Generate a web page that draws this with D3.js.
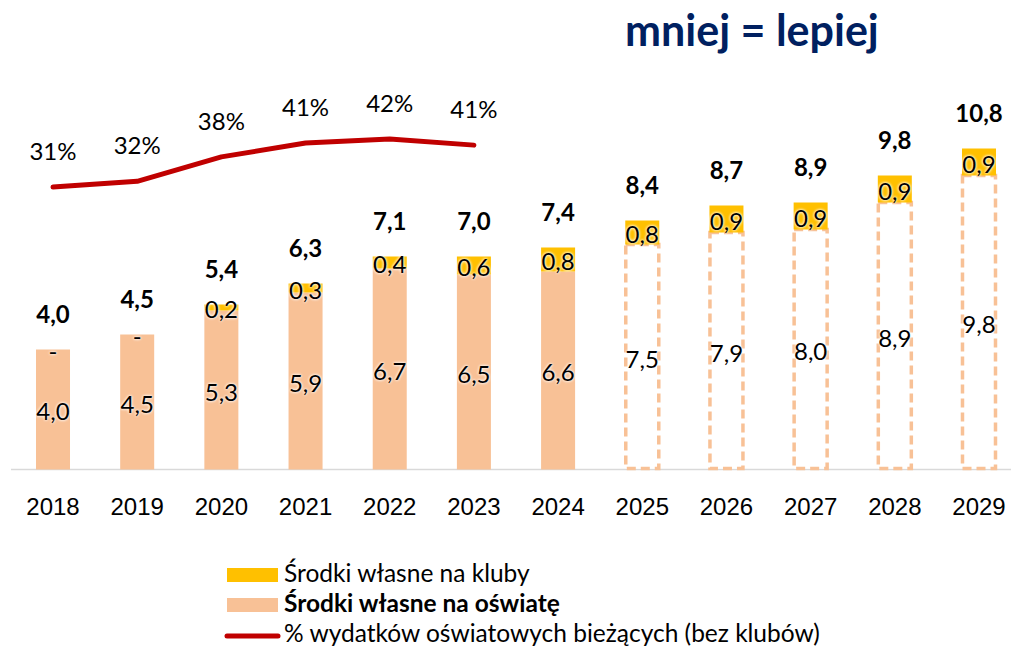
<!DOCTYPE html>
<html>
<head>
<meta charset="utf-8">
<script src="https://cdn.jsdelivr.net/npm/d3@7"></script>
<style>
  body { margin: 0; background: #fff; }
  svg { display: block; font-family: Lato, "Open Sans", sans-serif; }
</style>
</head>
<body>
<svg width="1011" height="648"></svg>
<script>
// dane
var years = ["2018", "2019", "2020", "2021", "2022", "2023", "2024", "2025", "2026", "2027", "2028", "2029"];
var oswiata = [4.0, 4.5, 5.3, 5.9, 6.7, 6.5, 6.6, 7.5, 7.9, 8.0, 8.9, 9.8];   // Środki własne na oświatę
var kluby = [0, 0, 0.2, 0.3, 0.4, 0.6, 0.8, 0.8, 0.9, 0.9, 0.9, 0.9];         // Środki własne na kluby
var razem = [4.0, 4.5, 5.4, 6.3, 7.1, 7.0, 7.4, 8.4, 8.7, 8.9, 9.8, 10.8];    // etykiety sum
var prognoza = [false, false, false, false, false, false, false, true, true, true, true, true];
var udzialYears = ["2018", "2019", "2020", "2021", "2022", "2023"];
var udzial = [31.0, 32.3, 37.9, 41.1, 42.0, 40.6];                            // % wydatków bieżących

var legendLabels = ["Środki własne na kluby", "Środki własne na oświatę", "% wydatków oświatowych bieżących (bez klubów)"];

var orange = "#F8C196", yellow = "#FFC000", red = "#C00000";

var svg = d3.select("svg");

var x = d3.scaleBand().domain(years).range([11, 1021]).paddingInner(0.596).paddingOuter(0.297);
var y = d3.scaleLinear().domain([0, 10]).range([469.5, 169.5]);
var y2 = d3.scaleLinear().domain([0, 50]).range([322.3, 104.1]);

function fmt(v) {
    return v === 0 ? "-" : d3.format(".1f")(v).replace(".", ",");
}

var rows = years.map(function (yr, i) {
    return { year: yr, a: oswiata[i], b: kluby[i], sum: razem[i], f: prognoza[i] };
});

// axis
var xAxis = svg.append("g")
    .attr("transform", "translate(0," + y(0) + ")")
    .call(d3.axisBottom(x).tickSize(0).tickPadding(0));
xAxis.select(".domain").remove();
xAxis.selectAll("text")
    .attr("y", 45.5)
    .attr("dy", null)
    .style("font-size", "24px")
    .style("fill", "#000");
svg.append("line")
    .attr("x1", 11).attr("x2", 1011)
    .attr("y1", y(0)).attr("y2", y(0))
    .attr("stroke", "#D9D9D9").attr("stroke-width", 1.5);

// dolne słupki (oświata)
svg.selectAll("rect.osw").data(rows).enter().append("rect")
    .attr("class", "osw")
    .attr("x", function (d) { return x(d.year) + (d.f ? 0.5 : 0); })
    .attr("width", function (d) { return x.bandwidth() - (d.f ? 1 : 0); })
    .attr("y", function (d) { return y(d.a); })
    .attr("height", function (d) { return y(0) - y(d.a) - (d.f ? 1 : 0); })
    .attr("fill", function (d) { return d.f ? "#fff" : orange; })
    .attr("stroke", function (d) { return d.f ? orange : "none"; })
    .attr("stroke-width", 3.5)
    .attr("stroke-dasharray", "9,5");

// górne słupki (kluby)
svg.selectAll("rect.klub").data(rows).enter().append("rect")
    .attr("class", "klub")
    .attr("x", function (d) { return x(d.year); })
    .attr("width", x.bandwidth())
    .attr("y", function (d) { return y(d.a + d.b); })
    .attr("height", function (d) { return y(d.a) - y(d.a + d.b); })
    .attr("fill", yellow);

var cx = function (d) { return x(d.year) + x.bandwidth() / 2; };

// etykiety w słupkach
function inner(sel) {
    sel.attr("text-anchor", "middle")
        .style("font-size", "24px")
        .style("fill", "#000")
        .style("text-shadow", "0 0 3px #fff, 0 0 3px #fff");
}
svg.selectAll("text.lbA").data(rows).enter().append("text")
    .attr("class", "lbA")
    .attr("x", cx)
    .attr("y", function (d) { return (y(0) + y(d.a)) / 2 + 10.5; })
    .text(function (d) { return fmt(d.a); })
    .call(inner);
svg.selectAll("text.lbB").data(rows).enter().append("text")
    .attr("class", "lbB")
    .attr("x", cx)
    .attr("y", function (d) { return (y(d.a) + y(d.a + d.b)) / 2 + 10.5; })
    .text(function (d) { return fmt(d.b); })
    .call(inner);

// sumy
svg.selectAll("text.sum").data(rows).enter().append("text")
    .attr("class", "sum")
    .attr("x", cx)
    .attr("y", function (d) { return y(d.a + d.b) - 27; })
    .attr("text-anchor", "middle")
    .style("font-size", "24px")
    .style("font-weight", "bold")
    .text(function (d) { return fmt(d.sum); });

// linia udziału
var pts = udzialYears.map(function (yr, i) { return { year: yr, v: udzial[i] }; });
svg.append("path")
    .datum(pts)
    .attr("fill", "none")
    .attr("stroke", red)
    .attr("stroke-width", 5)
    .attr("stroke-linecap", "round")
    .attr("stroke-linejoin", "round")
    .attr("d", d3.line().x(cx).y(function (d) { return y2(d.v); }));
svg.selectAll("text.pct").data(pts).enter().append("text")
    .attr("class", "pct")
    .attr("x", cx)
    .attr("y", function (d) { return y2(d.v) - 27; })
    .attr("text-anchor", "middle")
    .style("font-size", "24px")
    .text(function (d) { return Math.round(d.v) + "%"; });

// tytuł
svg.append("text")
    .attr("x", 625).attr("y", 46)
    .style("font-size", "43px")
    .style("font-weight", "bold")
    .style("fill", "#002060")
    .text("mniej = lepiej");

// legenda
var lg = svg.append("g");
lg.append("rect").attr("x", 227).attr("y", 568).attr("width", 51).attr("height", 14).attr("fill", yellow);
lg.append("rect").attr("x", 227).attr("y", 598).attr("width", 51).attr("height", 14).attr("fill", orange);
lg.append("line").attr("x1", 227).attr("x2", 278).attr("y1", 636).attr("y2", 636)
    .attr("stroke", red).attr("stroke-width", 5).attr("stroke-linecap", "round");
lg.selectAll("text").data(legendLabels).enter().append("text")
    .attr("x", 284)
    .attr("y", function (d, i) { return 582 + i * 30; })
    .style("font-size", "24.5px")
    .style("font-weight", function (d, i) { return i === 1 ? "bold" : "normal"; })
    .text(function (d) { return d; });
</script>
</body>
</html>
